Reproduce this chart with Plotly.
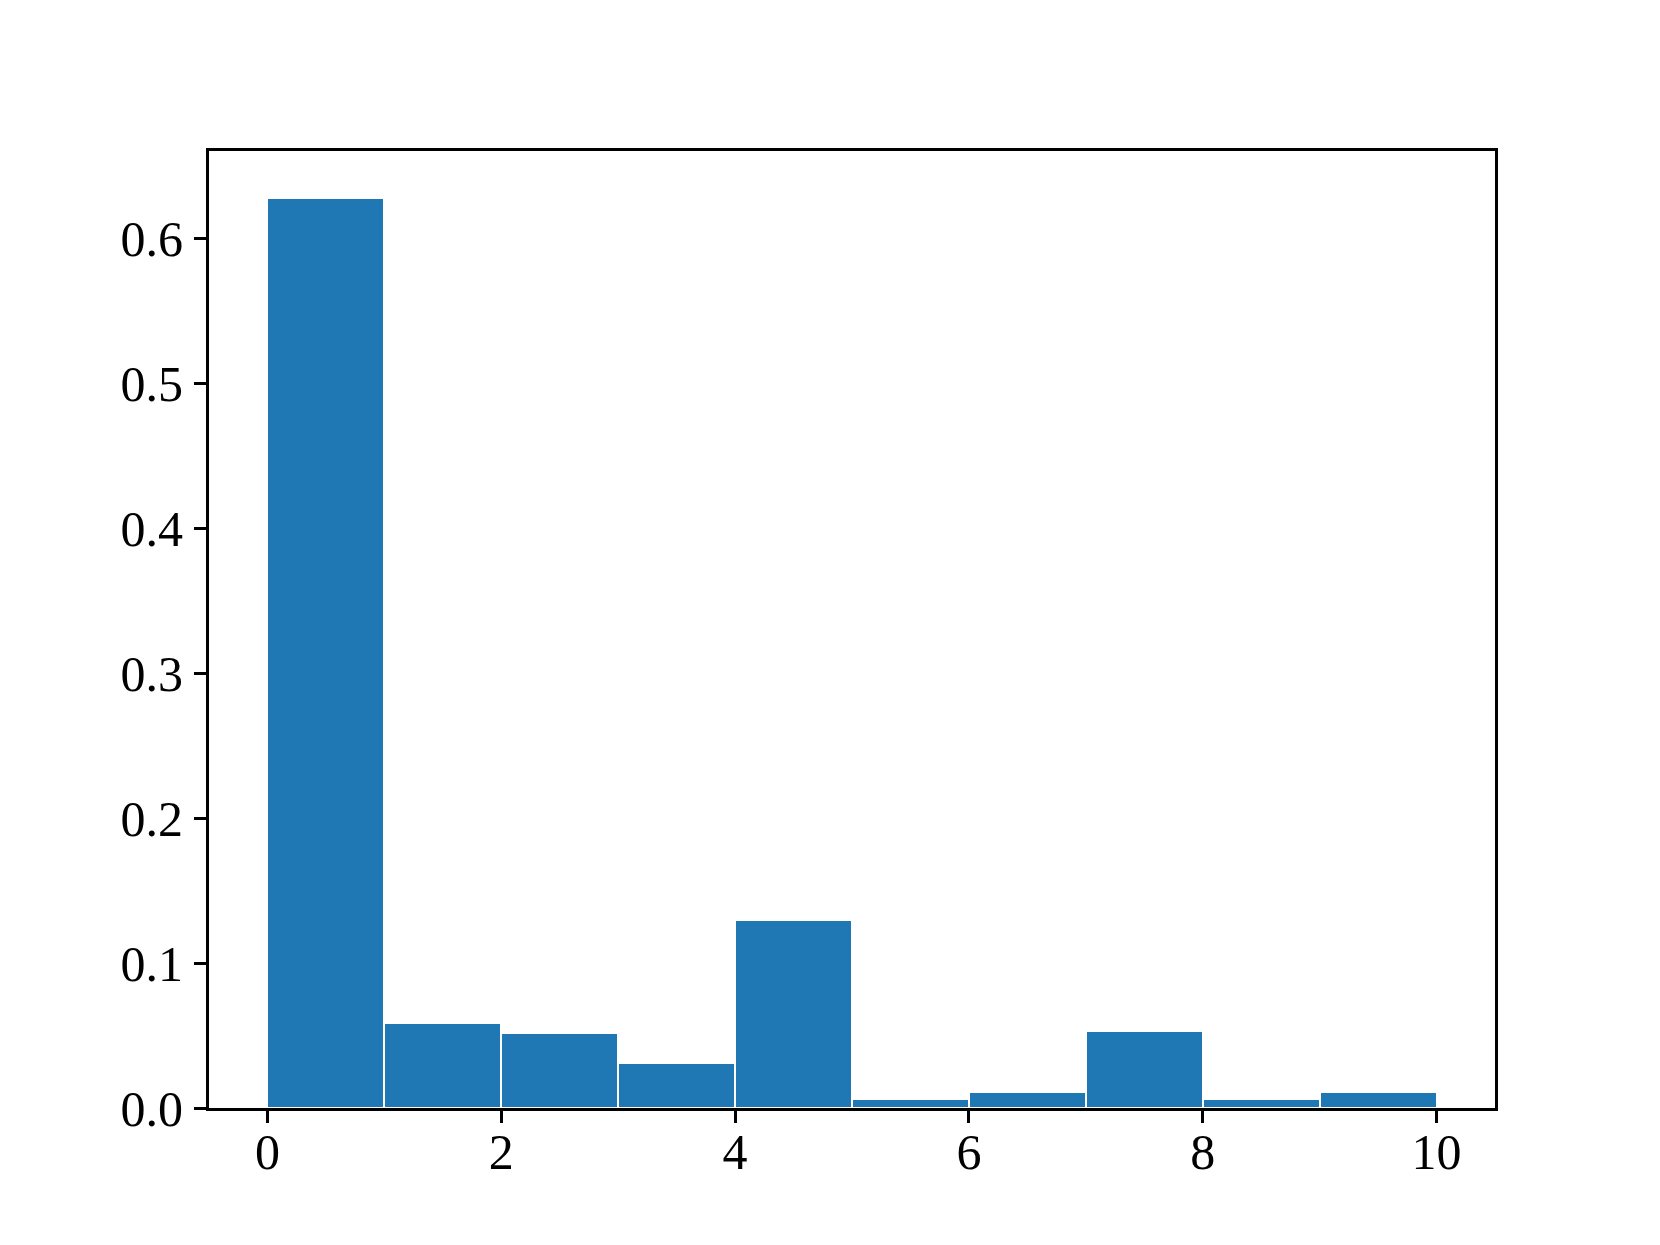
import plotly.graph_objects as go

bin_left = [0, 1, 2, 3, 4, 5, 6, 7, 8, 9]
density = [0.6276, 0.0585, 0.0519, 0.0308, 0.1298, 0.0060, 0.0113, 0.0533, 0.0065, 0.0113]
x_ticks = [0, 2, 4, 6, 8, 10]
y_ticks = [0.0, 0.1, 0.2, 0.3, 0.4, 0.5, 0.6]

centers = [b + 0.5 for b in bin_left]

fig = go.Figure(go.Bar(
    x=centers, y=density, width=1,
    marker=dict(color="#1f77b4", line=dict(color="white", width=2)),
))

font = dict(family="Liberation Serif, Times New Roman, serif", size=50, color="black")

fig.update_layout(
    width=1660, height=1245,
    margin=dict(l=201, r=173, t=143, b=145),
    paper_bgcolor="white", plot_bgcolor="white",
    showlegend=False, bargap=0,
    font=font,
)
fig.update_xaxes(
    range=[-0.5, 10.5], tickvals=x_ticks, ticktext=[str(v) for v in x_ticks],
    showline=True, linecolor="black", linewidth=3, mirror=True,
    ticks="outside", ticklen=12, tickwidth=2.5, tickcolor="black",
    showgrid=False, zeroline=False, tickfont=font, ticklabelstandoff=-14,
)
fig.update_yaxes(
    range=[0, 0.66], tickvals=y_ticks, ticktext=[f"{v:.1f}" for v in y_ticks],
    showline=True, linecolor="black", linewidth=3, mirror=True,
    ticks="outside", ticklen=12, tickwidth=2.5, tickcolor="black",
    showgrid=False, zeroline=False, tickfont=font, ticklabelstandoff=1,
)

fig.write_html("out.html")
